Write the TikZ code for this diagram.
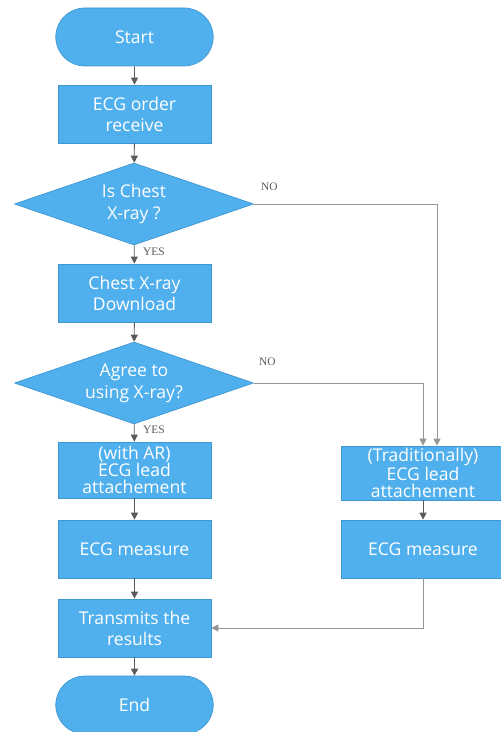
\documentclass[tikz,border=0pt]{standalone}
\usepackage{fontspec}
\newfontfamily\boxfont{Open Sans}
\newfontfamily\labfont{Liberation Serif}
\usetikzlibrary{shapes.geometric,shapes.misc,arrows.meta}
\definecolor{boxblue}{RGB}{80,176,238}
\definecolor{edgeblue}{RGB}{62,150,210}
\definecolor{linegray}{RGB}{90,90,90}
\definecolor{longgray}{RGB}{150,150,150}
% text that does not grow the diamond
\newcommand{\asktext}[1]{\raisebox{-5.3pt}{\smash{\makebox[0pt]{\begin{tabular}{@{}c@{}}#1\end{tabular}}}}}
\begin{document}
\begin{tikzpicture}[
  x=0.02cm, y=-0.02cm,
  box/.style={
    rectangle, fill=boxblue, draw=edgeblue, minimum width=3.06cm, minimum height=1.16cm,
    text=white, font=\boxfont\fontsize{10}{12}\selectfont, align=center, inner sep=1pt
  },
  tightbox/.style={box, font=\boxfont\fontsize{10}{9.6}\selectfont},
  terminal/.style={box, rounded rectangle, minimum width=3.22cm},
  decision/.style={box, diamond, minimum width=4.78cm, minimum height=1.64cm, inner sep=0pt},
  arrow/.style={-{Triangle[length=4pt,width=4pt]}, linegray, line width=0.5pt},
  longarrow/.style={arrow, longgray},
  answer/.style={font=\labfont\fontsize{6.5}{7}\selectfont, text=linegray, inner sep=1pt}
]
\useasboundingbox (0,0) rectangle (500,732);

% Main path (left)
\node[terminal] (start) at (134.5,37) {Start};
\node[box] (order) at (134.5,114) {ECG order\\receive};
\node[decision] (chest) at (134,204) {\asktext{Is Chest\\X-ray ?}};
\node[box] (download) at (134.5,293) {Chest X-ray\\Download};
\node[decision] (agree) at (134,383) {\asktext{Agree to\\using X-ray?}};
\node[tightbox, minimum height=1.12cm] (withar) at (134.5,470) {(with AR)\\ECG lead\\attachement};
\node[box] (measl) at (134.5,549) {ECG measure};
\node[box] (transmit) at (134.5,628) {Transmits the\\results};
\node[terminal] (endnode) at (134.5,705) {End};

% Traditional path (right)
\node[tightbox, minimum width=3.28cm, minimum height=1.08cm] (trad) at (423,473)
  {(Traditionally)\\ECG lead\\attachement};
\node[box, minimum width=3.28cm] (measr) at (423,549) {ECG measure};

% Answers
\node[answer, anchor=west] (yes1) at (141,252) {YES};
\node[answer, anchor=west] (yes2) at (141,430) {YES};
\node[answer, anchor=west] (no1) at (259,187) {NO};
\node[answer, anchor=west] (no2) at (257,362) {NO};

% Arrows
\draw[arrow] (start) -- (order);
\draw[arrow] (order) -- (chest);
\draw[arrow] (chest) -- (download);
\draw[arrow] (download) -- (agree);
\draw[arrow] (agree) -- (withar);
\draw[arrow] (withar) -- (measl);
\draw[arrow] (measl) -- (transmit);
\draw[arrow] (transmit) -- (endnode);
\draw[arrow] (trad) -- (measr);
\draw[longarrow] (chest.east) -| ([xshift=0.28cm]trad.north);
\draw[longarrow] (agree.east) -| (trad.north);
\draw[longarrow] (measr.south) |- (transmit.east);
\end{tikzpicture}
\end{document}
